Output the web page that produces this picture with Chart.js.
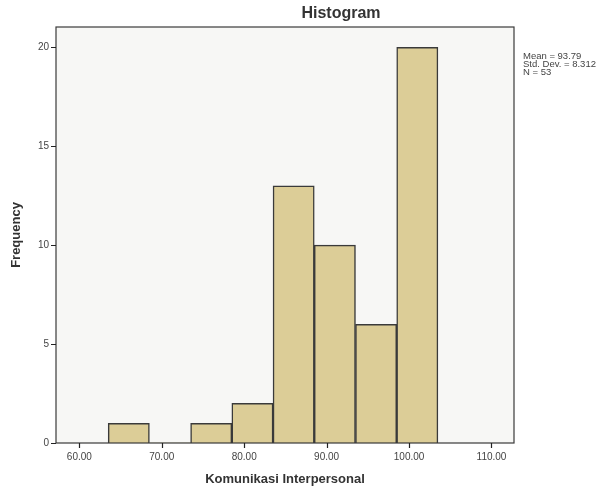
<!DOCTYPE html>
<html lang="id">
<head>
<meta charset="UTF-8">
<title>Histogram</title>
<script src="https://cdn.jsdelivr.net/npm/chart.js"></script>
<style>
  html, body { margin: 0; padding: 0; background: #fff; }
  #wrap { width: 613px; height: 494px; position: relative; }
</style>
</head>
<body>
<div id="wrap"><canvas id="hist" width="613" height="494"></canvas></div>
<script>
// data
const binCenters = [66, 71, 76, 81, 86, 91, 96, 101];
const frequencies = [1, 0, 1, 2, 13, 10, 6, 20];
const xTicks = [60, 70, 80, 90, 100, 110];
const yTicks = [0, 5, 10, 15, 20];
const statLabels = ['Mean = 93.79', 'Std. Dev. = 8.312', 'N = 53'];

const FONT = "'Liberation Sans', Arial, sans-serif";

// plot background, frame, tick marks, title and stats box
const spssDeco = {
  id: 'spssDeco',
  beforeDatasetsDraw(chart) {
    const a = chart.chartArea, c = chart.ctx;
    c.save();
    c.fillStyle = '#f7f7f5';
    c.fillRect(a.left, a.top, a.right - a.left, a.bottom - a.top);
    c.restore();
  },
  afterDraw(chart) {
    const a = chart.chartArea, c = chart.ctx;
    const xs = chart.scales.x, ys = chart.scales.y;
    c.save();
    c.strokeStyle = '#3a3a3a';
    c.lineWidth = 1.2;
    c.strokeRect(a.left, a.top, a.right - a.left, a.bottom - a.top);

    c.strokeStyle = '#222';
    c.beginPath();
    xTicks.forEach(v => {
      const px = Math.round(xs.getPixelForValue(v)) + 0.5;
      c.moveTo(px, a.bottom);
      c.lineTo(px, a.bottom + 5);
    });
    yTicks.forEach(v => {
      const py = Math.round(ys.getPixelForValue(v)) + 0.5;
      c.moveTo(a.left - 5, py);
      c.lineTo(a.left, py);
    });
    c.stroke();

    c.fillStyle = '#333';
    c.font = 'bold 16px ' + FONT;
    c.textAlign = 'center';
    c.textBaseline = 'alphabetic';
    c.fillText('Histogram', 341, 18);

    c.font = '9.5px ' + FONT;
    c.textAlign = 'left';
    c.fillStyle = '#444';
    statLabels.forEach((t, i) => c.fillText(t, 523, 59 + i * 8));
    c.restore();
  }
};

new Chart(document.getElementById('hist'), {
  type: 'bar',
  data: {
    datasets: [{
      data: binCenters.map((x, i) => ({ x: x, y: frequencies[i] })),
      backgroundColor: '#dccd97',
      borderColor: '#3a3a3a',
      borderWidth: ctx => (ctx.raw && ctx.raw.y > 0 ? 1.5 : 0),
      borderSkipped: 'bottom',
      barPercentage: 1,
      categoryPercentage: 1
    }]
  },
  options: {
    responsive: false,
    animation: false,
    layout: { padding: { left: 0, right: 99, top: 27, bottom: 0 } },
    plugins: { legend: { display: false }, tooltip: { enabled: false } },
    scales: {
      x: {
        type: 'linear',
        offset: false,
        min: 57.17,
        max: 112.73,
        afterFit: s => { s.height = 51; },
        afterBuildTicks: s => { s.ticks = xTicks.map(v => ({ value: v })); },
        grid: { display: false, drawTicks: true, tickLength: 6 },
        border: { display: false },
        ticks: {
          maxRotation: 0,
          autoSkip: false,
          padding: 2,
          color: '#444',
          font: { family: FONT, size: 10 },
          callback: v => Number(v).toFixed(2)
        },
        title: {
          display: true,
          text: 'Komunikasi Interpersonal',
          color: '#333',
          font: { family: FONT, size: 13, weight: 'bold' },
          padding: { top: 2, bottom: 7 }
        }
      },
      y: {
        min: 0,
        max: 21.03,
        afterFit: s => { s.width = 56; },
        afterBuildTicks: s => { s.ticks = yTicks.map(v => ({ value: v })); },
        grid: { display: false, drawTicks: true, tickLength: 6 },
        border: { display: false },
        ticks: {
          padding: 1,
          color: '#444',
          font: { family: FONT, size: 10 }
        },
        title: {
          display: true,
          text: 'Frequency',
          color: '#333',
          font: { family: FONT, size: 13, weight: 'bold' },
          padding: { top: 9, bottom: 0 }
        }
      }
    }
  },
  plugins: [spssDeco]
});
</script>
</body>
</html>
